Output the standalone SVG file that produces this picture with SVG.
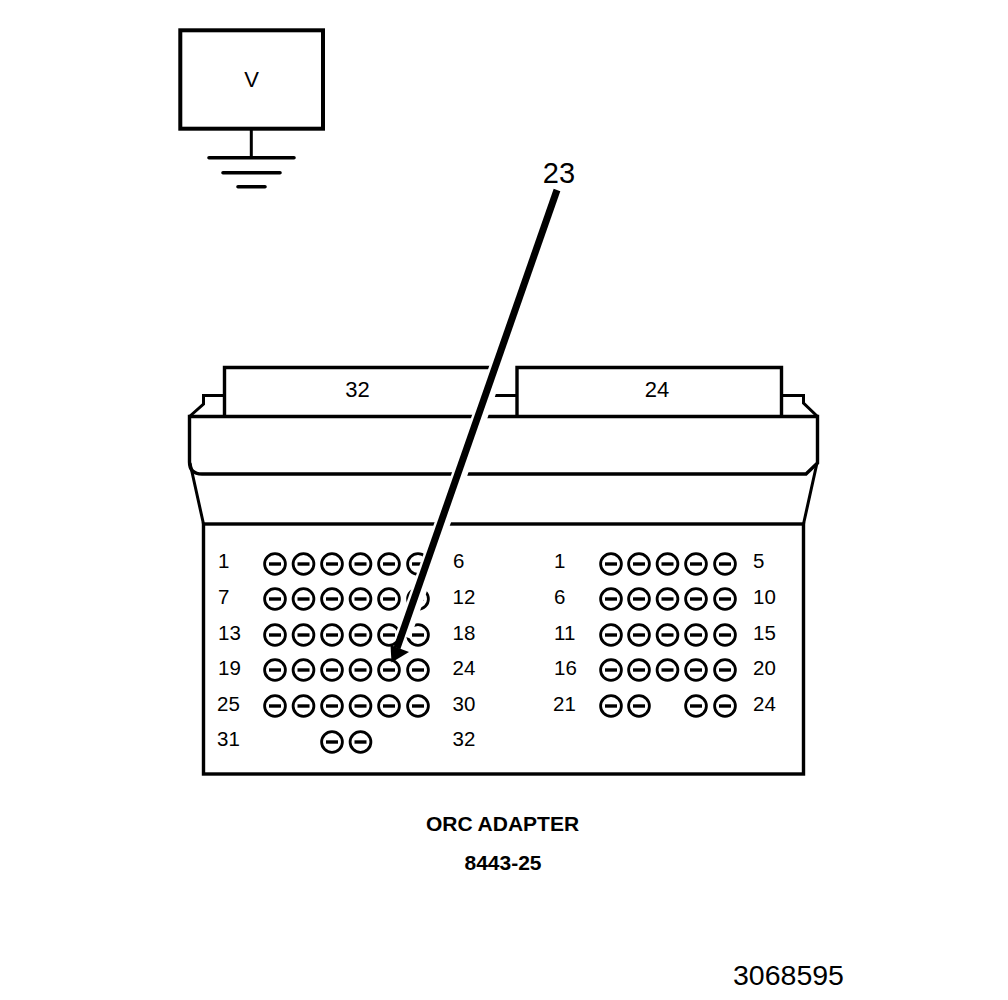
<svg xmlns="http://www.w3.org/2000/svg" width="1008" height="1000" viewBox="0 0 1008 1000">
<style>
text{font-family:"Liberation Sans",Arial,sans-serif;fill:#000}
.n{font-size:20.500px}
.m{text-anchor:middle}
.l{font-size:22px}
.b{font-size:21px;font-weight:bold;text-anchor:middle}
.s{fill:none;stroke:#000;stroke-width:3.400}
.t{fill:none;stroke:#000;stroke-width:3}
.g{fill:none;stroke:#000;stroke-width:3.600;stroke-linecap:round}
</style>
<defs>
<g id="pin"><circle r="10.400" fill="none" stroke="#000" stroke-width="2.800"/><path d="M-6 0H6" stroke="#000" stroke-width="3.400"/></g>
</defs>
<rect width="1008" height="1000" fill="#fff"/>
<g id="meter">
<rect x="180.300" y="30.300" width="142.700" height="98.400" fill="none" stroke="#000" stroke-width="4"/>
<text x="251.500" y="86.500" class="l m">V</text>
<path d="M251.300 130V157" class="t"/>
<path d="M209 157.700H294M223 172.700H280M238 186.700H265" class="g"/>
</g>
<g id="adapter">
<path d="M224.500 416V367.500H500" class="s"/>
<path d="M517 416V367.500H781.500V416" class="s"/>
<path d="M517 395.500H490M224 395.500H203.500V404L189.500 416.500M782 395.500H803.500V403L817.500 416.500" class="t"/>
<path d="M189.500 416.500H817.500V463L806 474H202Q189.500 474 189.500 462Z" class="s"/>
<path d="M190 463L203.500 524M817 463L803.500 524" class="t"/>
<rect x="203.500" y="524" width="600" height="250" class="s"/>
<text x="357.500" y="397" class="l m">32</text>
<text x="657" y="397" class="l m">24</text>
</g>
<g id="pins-left">
<use href="#pin" x="275" y="564"/><use href="#pin" x="303.500" y="564"/><use href="#pin" x="332" y="564"/><use href="#pin" x="360.500" y="564"/><use href="#pin" x="389" y="564"/><use href="#pin" x="418" y="564"/>
<use href="#pin" x="275" y="599"/><use href="#pin" x="303.500" y="599"/><use href="#pin" x="332" y="599"/><use href="#pin" x="360.500" y="599"/><use href="#pin" x="389" y="599"/><use href="#pin" x="418" y="599"/>
<use href="#pin" x="275" y="635"/><use href="#pin" x="303.500" y="635"/><use href="#pin" x="332" y="635"/><use href="#pin" x="360.500" y="635"/><use href="#pin" x="389" y="635"/><use href="#pin" x="418" y="635"/>
<use href="#pin" x="275" y="670"/><use href="#pin" x="303.500" y="670"/><use href="#pin" x="332" y="670"/><use href="#pin" x="360.500" y="670"/><use href="#pin" x="389" y="670"/><use href="#pin" x="418" y="670"/>
<use href="#pin" x="275" y="706"/><use href="#pin" x="303.500" y="706"/><use href="#pin" x="332" y="706"/><use href="#pin" x="360.500" y="706"/><use href="#pin" x="389" y="706"/><use href="#pin" x="418" y="706"/>
<use href="#pin" x="332" y="742"/><use href="#pin" x="360.500" y="742"/>
</g>
<g id="pins-right">
<use href="#pin" x="611" y="564"/><use href="#pin" x="639" y="564"/><use href="#pin" x="667.500" y="564"/><use href="#pin" x="696" y="564"/><use href="#pin" x="725" y="564"/>
<use href="#pin" x="611" y="599"/><use href="#pin" x="639" y="599"/><use href="#pin" x="667.500" y="599"/><use href="#pin" x="696" y="599"/><use href="#pin" x="725" y="599"/>
<use href="#pin" x="611" y="635"/><use href="#pin" x="639" y="635"/><use href="#pin" x="667.500" y="635"/><use href="#pin" x="696" y="635"/><use href="#pin" x="725" y="635"/>
<use href="#pin" x="611" y="670"/><use href="#pin" x="639" y="670"/><use href="#pin" x="667.500" y="670"/><use href="#pin" x="696" y="670"/><use href="#pin" x="725" y="670"/>
<use href="#pin" x="611" y="706"/><use href="#pin" x="639" y="706"/><use href="#pin" x="696" y="706"/><use href="#pin" x="725" y="706"/>
</g>
<g id="pin-labels">
<text x="218" y="568" class="n">1</text><text x="453" y="568" class="n">6</text>
<text x="218" y="604" class="n">7</text><text x="452.500" y="604" class="n">12</text>
<text x="218" y="639.500" class="n">13</text><text x="452.500" y="639.500" class="n">18</text>
<text x="218" y="675" class="n">19</text><text x="452.500" y="675" class="n">24</text>
<text x="217" y="711" class="n">25</text><text x="452.500" y="711" class="n">30</text>
<text x="217" y="746" class="n">31</text><text x="452.500" y="746" class="n">32</text>
<text x="554" y="568" class="n">1</text><text x="753" y="568" class="n">5</text>
<text x="554" y="604" class="n">6</text><text x="753" y="604" class="n">10</text>
<text x="554" y="639.500" class="n">11</text><text x="753" y="639.500" class="n">15</text>
<text x="554" y="675" class="n">16</text><text x="753" y="675" class="n">20</text>
<text x="553" y="711" class="n">21</text><text x="753" y="711" class="n">24</text>
</g>
<g id="connectors">
<path d="M559 190L403 636" stroke="#fff" stroke-width="15.500" fill="none"/>
<path d="M557 190L397 648" stroke="#000" stroke-width="7" fill="none"/>
<path d="M391.500 662.500L390.500 645L409 652Z" fill="#000"/>
</g>
<g id="labels">
<text x="559" y="183" font-size="29" text-anchor="middle">23</text>
<text x="502.500" y="830.500" class="b">ORC ADAPTER</text>
<text x="503" y="870" class="b">8443-25</text>
<text x="788.500" y="985" font-size="28.500" text-anchor="middle">3068595</text>
</g>
</svg>
